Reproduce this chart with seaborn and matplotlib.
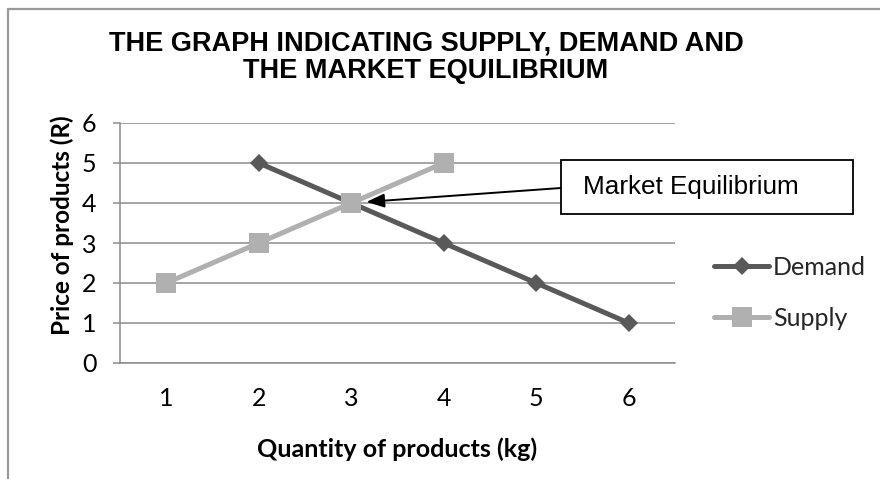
import matplotlib
matplotlib.use("Agg")
import matplotlib.pyplot as plt
import matplotlib.patches as mpatches
from matplotlib.lines import Line2D
import seaborn as sns
import pandas as pd

# ---- data ----
quantity_ticks = [1, 2, 3, 4, 5, 6]
tick_labels = ["1", "2", "3", "4", "5", "6"]
demand_qty = [2, 3, 4, 5, 6]
demand_price = [5, 4, 3, 2, 1]
supply_qty = [1, 2, 3, 4]
supply_price = [2, 3, 4, 5]
price_ticks = [0, 1, 2, 3, 4, 5, 6]
title_text = "THE GRAPH INDICATING SUPPLY, DEMAND AND\nTHE MARKET EQUILIBRIUM"
equilibrium_label = "Market Equilibrium"
equilibrium_point = (3, 4)

df = pd.concat([
    pd.DataFrame({"Quantity": demand_qty, "Price": demand_price, "Series": "Demand"}),
    pd.DataFrame({"Quantity": supply_qty, "Price": supply_price, "Series": "Supply"}),
], ignore_index=True)

sns.set_theme(style="white")
plt.rcParams["font.family"] = ["Lato", "DejaVu Sans"]

W, H = 880, 479
fig = plt.figure(figsize=(W / 100, H / 100), dpi=100)
ax = fig.add_axes([120 / W, 1 - 363 / H, (675 - 120) / W, 240 / H])

grid_col = "#8c8c8c"
palette = {"Demand": "#595959", "Supply": "#b0b0b0"}
markers = {"Demand": "D", "Supply": "s"}
sizes = {"Demand": 9.5, "Supply": 14}

for name in ["Demand", "Supply"]:
    sub = df[df["Series"] == name]
    sns.lineplot(data=sub, x="Quantity", y="Price", ax=ax, color=palette[name],
                 marker=markers[name], markersize=sizes[name], markeredgewidth=0,
                 linewidth=3.6, label=name, zorder=3 if name == "Demand" else 4)

ax.set_xlim(0.5, 6.5)
ax.set_ylim(0, 6)
ax.set_xticks(quantity_ticks)
ax.set_xticklabels(tick_labels)
ax.set_yticks(price_ticks)
ax.yaxis.grid(True, color=grid_col, linewidth=1.1)
ax.xaxis.grid(False)
for s in ["top", "right"]:
    ax.spines[s].set_visible(False)
for s in ["left", "bottom"]:
    ax.spines[s].set_color(grid_col)
    ax.spines[s].set_linewidth(1.1)
ax.tick_params(axis="y", length=5, width=1.1, color=grid_col, pad=12,
               labelsize=18, labelcolor="black", left=True, direction="out")
ax.tick_params(axis="x", length=0, pad=17, labelsize=18, labelcolor="black")

ax.set_xlabel("Quantity of products (kg)", fontsize=18, fontweight="bold", color="black")
ax.set_ylabel("Price of products (R)", fontsize=17.5, fontweight="bold", color="black")
ax.xaxis.label.set_va("center")
ax.xaxis.set_label_coords(0.5, -(449 - 363) / 240)
ax.yaxis.label.set_va("center")
ax.yaxis.set_label_coords((62 - 120) / 555, (363 - 225) / 240)

leg = ax.legend(loc="upper left", bbox_to_anchor=(714 / W, 1 - 256 / H),
                bbox_transform=fig.transFigure, frameon=False, fontsize=18,
                handlelength=2.2, handletextpad=0.15, labelspacing=1.1,
                borderpad=0, borderaxespad=0)

# title
fig.text(426 / W, 1 - 57.5 / H, title_text, ha="center", va="center",
         fontsize=19.5, fontweight="bold", family=["Liberation Sans", "DejaVu Sans"],
         linespacing=1.08, color="black")

# annotation box
box = mpatches.Rectangle((561 / W, 1 - 214 / H), (853 - 561) / W, (214 - 160) / H,
                         transform=fig.transFigure, facecolor="white",
                         edgecolor="black", linewidth=1.3, zorder=5)
fig.patches.append(box)
fig.text(583 / W, 1 - 187 / H, equilibrium_label, ha="left", va="center",
         fontsize=18.8, family=["Liberation Sans", "DejaVu Sans"], color="black", zorder=6)
ax.annotate("", xy=equilibrium_point, xycoords="data",
            xytext=(561 / W, 1 - 188 / H), textcoords="figure fraction",
            arrowprops=dict(arrowstyle="-|>,head_length=0.9,head_width=0.35",
                            color="black", lw=1.4, shrinkA=0, shrinkB=11),
            zorder=6)

# outer chart frame (partially cropped)
fig.lines.append(Line2D([8 / W, 1], [1 - 9 / H, 1 - 9 / H], transform=fig.transFigure,
                        color="#9a9a9a", linewidth=1.6))
fig.lines.append(Line2D([8 / W, 8 / W], [0, 1 - 9 / H], transform=fig.transFigure,
                        color="#9a9a9a", linewidth=1.6))

fig.savefig("out.png", dpi=100, facecolor="white")
